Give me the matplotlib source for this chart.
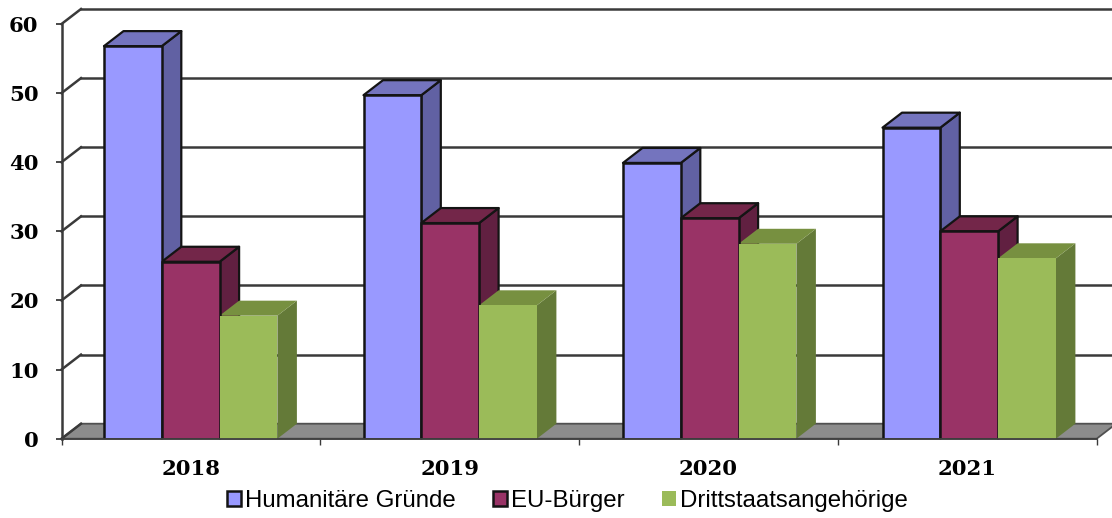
import matplotlib
matplotlib.use("Agg")
import matplotlib.pyplot as plt
from matplotlib.patches import Polygon, Patch

years = ["2018", "2019", "2020", "2021"]
humanitaer = [56.8, 49.7, 39.9, 45.0]
eu_buerger = [25.6, 31.2, 31.9, 30.0]
drittstaat = [17.8, 19.3, 28.2, 26.1]
y_ticks = [0, 10, 20, 30, 40, 50, 60]

series_names = ["Humanitäre Gründe", "EU-Bürger", "Drittstaatsangehörige"]
front_colors = ["#9999FF", "#993366", "#9BBB59"]
side_colors = ["#6161A3", "#612041", "#647A38"]
top_colors = ["#7474BE", "#732649", "#779040"]

W, H = 1112, 518
edge = "#141414"
edges = [edge, edge, "none"]  # green has no outline in the original

fig = plt.figure(figsize=(W / 100, H / 100), dpi=100)
ax = fig.add_axes([61.5 / W, 1 - 438.7 / H, 1035.2 / W, 414.7 / H])
ax.set_xlim(0, len(years))
ax.set_ylim(0, 60)

# depth of the fake 3d, in data units
dx = 19.5 / (1035.2 / 4)
dy = 15 / (414.7 / 60)
bar_w = 57.8 / (1035.2 / 4)
start = 42.5 / (1035.2 / 4)
group_step = 259.5 / (1035.2 / 4)  # groups drift a bit against the ticks

# floor
ax.add_patch(Polygon([(0, 0), (dx, dy), (4 + dx, dy), (4, 0)], closed=True, fc="#8C8C8C",
                     ec="#505050", lw=1.3, clip_on=False, zorder=1))

# back wall lines and left side lines
for v in y_ticks:
    if v > 0:
        ax.plot([dx, 4 + dx], [v + dy, v + dy], color="#3a3a3a", lw=1.8, clip_on=False, zorder=1)
    ax.plot([0, dx], [v, v + dy], color="#3a3a3a", lw=1.8, clip_on=False, zorder=1)

# bars, left to right so the next front covers the side before it
for i in range(len(years)):
    for j, vals in enumerate([humanitaer, eu_buerger, drittstaat]):
        x0 = i * group_step + start + j * bar_w
        x1 = x0 + bar_w
        v = vals[i]
        z = 2 + i + j * 0.1
        ax.add_patch(Polygon([(x1, 0), (x1 + dx, dy), (x1 + dx, v + dy), (x1, v)], closed=True,
                             fc=side_colors[j], ec=edges[j], lw=1.6, joinstyle="round", clip_on=False, zorder=z))
        ax.add_patch(Polygon([(x0, v), (x0 + dx, v + dy), (x1 + dx, v + dy), (x1, v)], closed=True,
                             fc=top_colors[j], ec=edges[j], lw=1.6, joinstyle="round", clip_on=False, zorder=z))
        ax.bar(x0, v, width=bar_w, align="edge", color=front_colors[j], edgecolor=edges[j], lw=1.8, zorder=z + 0.15)

for s in ["top", "right"]:
    ax.spines[s].set_visible(False)
ax.spines["left"].set_color("#3a3a3a")
ax.spines["left"].set_linewidth(1.8)
ax.spines["bottom"].set_color("#404040")
ax.spines["bottom"].set_linewidth(1.3)
ax.spines["bottom"].set_zorder(10)

serif = {"family": "DejaVu Serif", "weight": "bold", "size": 15.3}
ax.set_yticks(y_ticks)
ax.set_yticklabels([str(v) for v in y_ticks], **serif)
ax.set_xticks(range(5))
ax.set_xticklabels([])
ax.tick_params(axis="y", length=4.5, width=1.3, color="#3a3a3a", pad=12)
ax.tick_params(axis="x", length=4.5, width=1, color="#3a3a3a")
for i, y in enumerate(years):
    ax.text(i + 0.5, -4.4, y, ha="center", va="center", **serif)

handles = [Patch(fc=c, ec=e, lw=1.8) for c, e in zip(front_colors, edges)]
ax.legend(handles, series_names, ncol=3, frameon=False, loc="center", bbox_to_anchor=(0.4888, -0.15),
          prop={"family": "Liberation Sans", "size": 17.3}, handlelength=0.58, handleheight=0.6,
          handletextpad=0.17, columnspacing=1.54, borderpad=0, borderaxespad=0)

fig.savefig("out.png", dpi=100)
